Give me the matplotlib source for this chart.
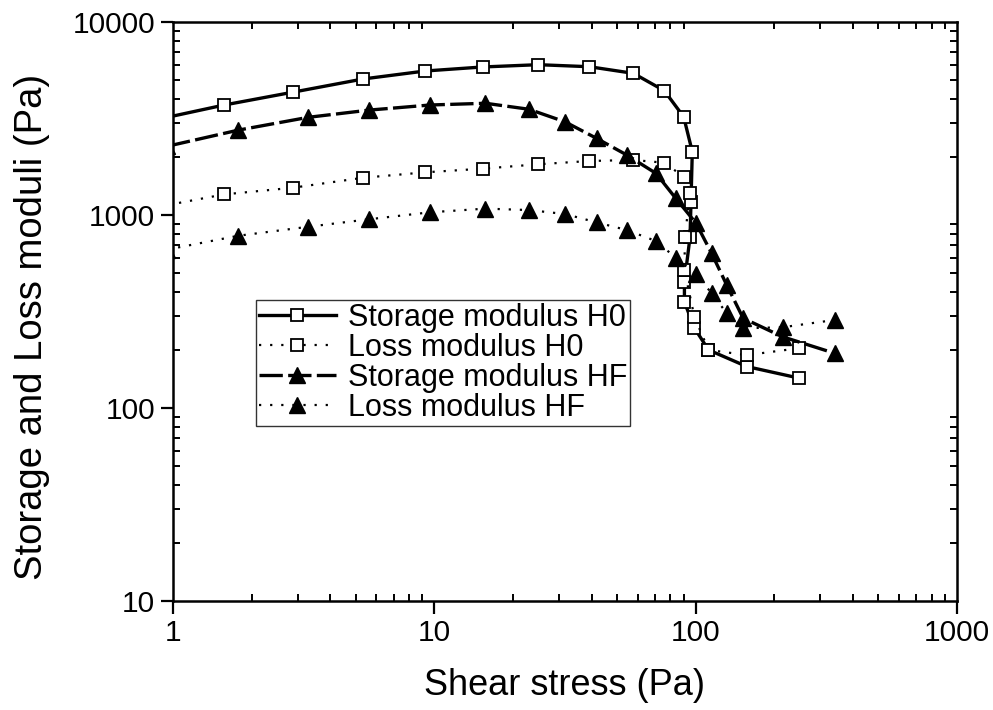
import matplotlib
matplotlib.use("Agg")
import matplotlib.pyplot as plt
from matplotlib.ticker import LogLocator, NullFormatter, FixedLocator, FixedFormatter

plt.rcParams['font.family'] = ['Liberation Sans', 'DejaVu Sans']

# --- data (first point of each series lies just left of x=1, clipped)
h0_stress = [0.87, 1.57, 2.87, 5.35, 9.24, 15.3, 25.0, 39.2, 57.8, 75.9, 90.0, 97.1,
             96.0, 95.2, 90.6, 90.6, 98.9, 112, 157, 248]
h0_storage = [3126, 3715, 4327, 5070, 5575, 5848, 6010, 5866, 5420, 4404, 3227, 2128,
              1172, 770, 450, 354, 260, 200, 164, 143]

h0_loss_stress = [0.87, 1.57, 2.87, 5.35, 9.24, 15.3, 25.0, 39.2, 57.8, 75.9, 90.0, 95.2,
                  91.0, 90.6, 98.9, 112, 157, 248]
h0_loss = [1100, 1279, 1384, 1560, 1664, 1738, 1832, 1905, 1928, 1866, 1578, 1306,
           770, 519, 297, 200, 188, 204]

hf_stress = [0.95, 1.78, 3.29, 5.64, 9.63, 15.7, 23.0, 31.6, 41.8, 54.5, 70.5, 83.9,
             100.4, 115.2, 131.5, 152, 215, 341]
hf_storage = [2270, 2754, 3207, 3497, 3715, 3793, 3532, 3042, 2495, 2047, 1644, 1221,
              906, 632, 434, 292, 234, 192]
hf_loss = [662, 781, 869, 951, 1033, 1079, 1061, 1012, 916, 836, 733, 601,
           493, 393, 310, 259, 262, 286]

x_ticks = [1, 10, 100, 1000]
y_ticks = [10, 100, 1000, 10000]

fig = plt.figure(figsize=(9.93, 7.10), dpi=100)
ax = fig.add_axes([0.1742, 0.1535, 0.7895, 0.8155])

sq = dict(marker="s", markersize=9, markerfacecolor="white",
          markeredgecolor="black", markeredgewidth=1.3)
tri = dict(marker="^", markersize=11.5, markerfacecolor="black",
           markeredgecolor="black")

ax.plot(h0_stress, h0_storage, color="black", linewidth=2.4,
        label="Storage modulus H0", **sq)
ax.plot(h0_loss_stress, h0_loss, color="black", linewidth=1.6,
        linestyle=(0, (1, 4)), label="Loss modulus H0", **sq)
ax.plot(hf_stress, hf_storage, color="black", linewidth=2.4,
        linestyle=(0, (7, 1.6)), label="Storage modulus HF", **tri)
ax.plot(hf_stress, hf_loss, color="black", linewidth=1.6,
        linestyle=(0, (1, 4)), label="Loss modulus HF", **tri)

ax.set_xscale("log")
ax.set_yscale("log")
ax.set_xlim(1, 1000)
ax.set_ylim(10, 10000)

ax.xaxis.set_major_locator(FixedLocator(x_ticks))
ax.xaxis.set_major_formatter(FixedFormatter([str(v) for v in x_ticks]))
ax.yaxis.set_major_locator(FixedLocator(y_ticks))
ax.yaxis.set_major_formatter(FixedFormatter([str(v) for v in y_ticks]))
ax.xaxis.set_minor_locator(LogLocator(base=10, subs=range(2, 10)))
ax.yaxis.set_minor_locator(LogLocator(base=10, subs=range(2, 10)))
ax.xaxis.set_minor_formatter(NullFormatter())
ax.yaxis.set_minor_formatter(NullFormatter())

ax.tick_params(which="major", direction="out", length=9, width=1.6,
               labelsize=21.5, pad=4)
ax.tick_params(which="minor", direction="in", length=5, width=1.4,
               top=True, right=True)
for sp in ax.spines.values():
    sp.set_linewidth(1.8)

ax.set_xlabel("Shear stress (Pa)", fontsize=26)
ax.set_ylabel("Storage and Loss moduli (Pa)", fontsize=27.5)
ax.xaxis.set_label_coords(0.5, -0.116)
ax.yaxis.set_label_coords(-0.157, 0.473)

leg = ax.legend(loc="upper left", bbox_to_anchor=(0.106, 0.52), fontsize=22,
                frameon=True, fancybox=False, numpoints=1, handlelength=2.5,
                handletextpad=0.4, borderpad=0.1, labelspacing=0.0,
                borderaxespad=0)
leg.get_frame().set_edgecolor("black")
leg.get_frame().set_linewidth(1.0)

fig.savefig("out.png", dpi=100)
